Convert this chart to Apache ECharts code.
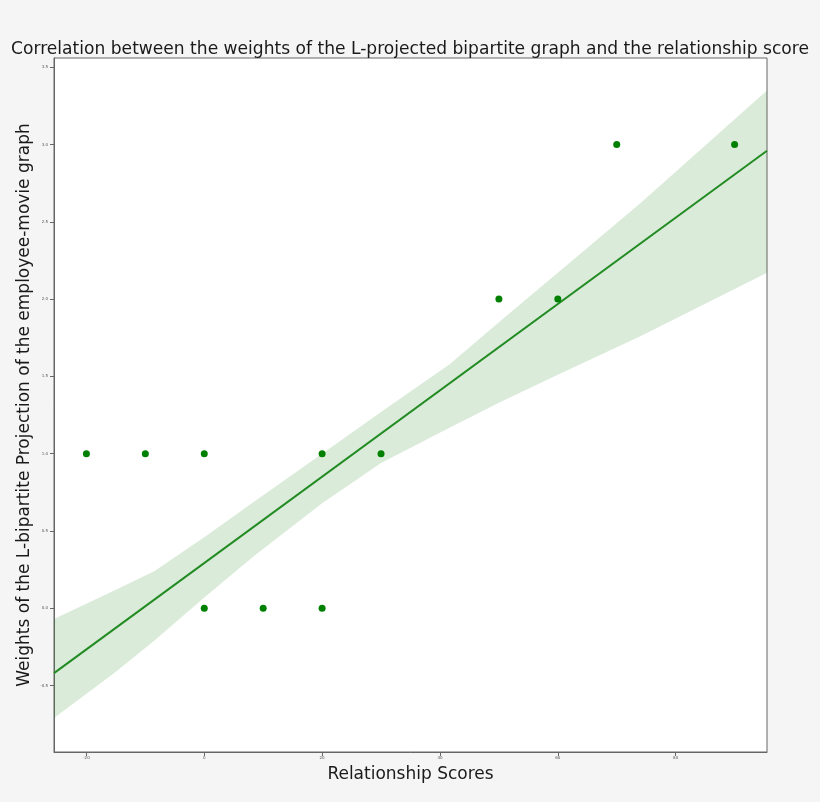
<!DOCTYPE html>
<html>
<head>
<meta charset="utf-8">
<script src="https://cdn.jsdelivr.net/npm/echarts@6/dist/echarts.min.js"></script>
<style>
  html, body { margin: 0; padding: 0; background: #f5f5f5; }
  #main { width: 820px; height: 802px; }
</style>
</head>
<body>
<div id="main"></div>
<script>
// scatter points (relationship score, weight)
var scoreX = [-20, -10, 0, 0, 10, 20, 20, 30, 50, 60, 70, 90];
var weightY = [1, 1, 1, 0, 0, 0, 1, 1, 2, 2, 3, 3];

// regression line ends
var fitX = [-25.5, 95.5];
var fitY = [-0.42, 2.96];

// confidence band edges
var bandX = [-25.5, -15, -8.5, 0, 8.5, 20, 30, 41.7, 50, 60, 74, 95.5];
var bandUpper = [-0.07, 0.12, 0.24, 0.46, 0.69, 1.00, 1.27, 1.58, 1.85, 2.17, 2.62, 3.35];
var bandLower = [-0.71, -0.41, -0.21, 0.07, 0.34, 0.68, 0.94, 1.17, 1.33, 1.51, 1.76, 2.17];

var xTicks = [-20, 0, 20, 40, 60, 80];
var yTicks = [-0.5, 0, 0.5, 1, 1.5, 2, 2.5, 3, 3.5];

var chart = echarts.init(document.getElementById("main"));
var font = "DejaVu Sans";

var option = {
  backgroundColor: "#f5f5f5",
  animation: false,
  title: {
    text: "Correlation between the weights of the L-projected bipartite graph and the relationship score",
    left: "center",
    top: 36,
    textStyle: { fontFamily: font, fontSize: 17.1, fontWeight: "normal", color: "#1a1a1a" }
  },
  grid: {
    left: 54,
    right: 53,
    top: 58,
    bottom: 50,
    show: true,
    backgroundColor: "#ffffff",
    borderColor: "#666",
    borderWidth: 1
  },
  xAxis: {
    type: "value",
    min: -25.5,
    max: 95.5,
    name: "Relationship Scores",
    nameLocation: "middle",
    nameGap: 14,
    nameTextStyle: { fontFamily: font, fontSize: 17, color: "#1a1a1a" },
    splitLine: { show: false },
    axisLine: { show: true, onZero: false, lineStyle: { color: "#666" } },
    axisTick: { show: true, length: 4, customValues: xTicks, lineStyle: { color: "#666" } },
    axisLabel: { customValues: xTicks, fontSize: 4, color: "#555", margin: 4, fontFamily: font }
  },
  yAxis: {
    type: "value",
    min: -0.93,
    max: 3.56,
    name: "Weights of the L-bipartite Projection of the employee-movie graph",
    nameLocation: "middle",
    nameGap: 21,
    nameMoveOverlap: false,
    nameTextStyle: { fontFamily: font, fontSize: 17, color: "#1a1a1a" },
    splitLine: { show: false },
    axisLine: { show: true, onZero: false, lineStyle: { color: "#666" } },
    axisTick: { show: true, length: 4, customValues: yTicks, lineStyle: { color: "#666" } },
    axisLabel: {
      customValues: yTicks, fontSize: 4, color: "#555", margin: 6, fontFamily: font,
      formatter: function (v) { return v.toFixed(1); }
    }
  },
  series: [
    {
      type: "custom",
      silent: true,
      z: 1,
      data: [0],
      renderItem: function (params, api) {
        var pts = [];
        for (var i = 0; i < bandX.length; i++) pts.push(api.coord([bandX[i], bandUpper[i]]));
        for (var j = bandX.length - 1; j >= 0; j--) pts.push(api.coord([bandX[j], bandLower[j]]));
        return {
          type: "polygon",
          shape: { points: pts },
          style: { fill: "rgba(34,139,34,0.17)" }
        };
      }
    },
    {
      type: "line",
      z: 3,
      data: fitX.map(function (x, i) { return [x, fitY[i]]; }),
      showSymbol: false,
      lineStyle: { color: "#228b22", width: 2 }
    },
    {
      type: "scatter",
      z: 4,
      data: scoreX.map(function (x, i) { return [x, weightY[i]]; }),
      symbolSize: 7,
      itemStyle: { color: "#008000", opacity: 1 }
    }
  ]
};

chart.setOption(option);
</script>
</body>
</html>
